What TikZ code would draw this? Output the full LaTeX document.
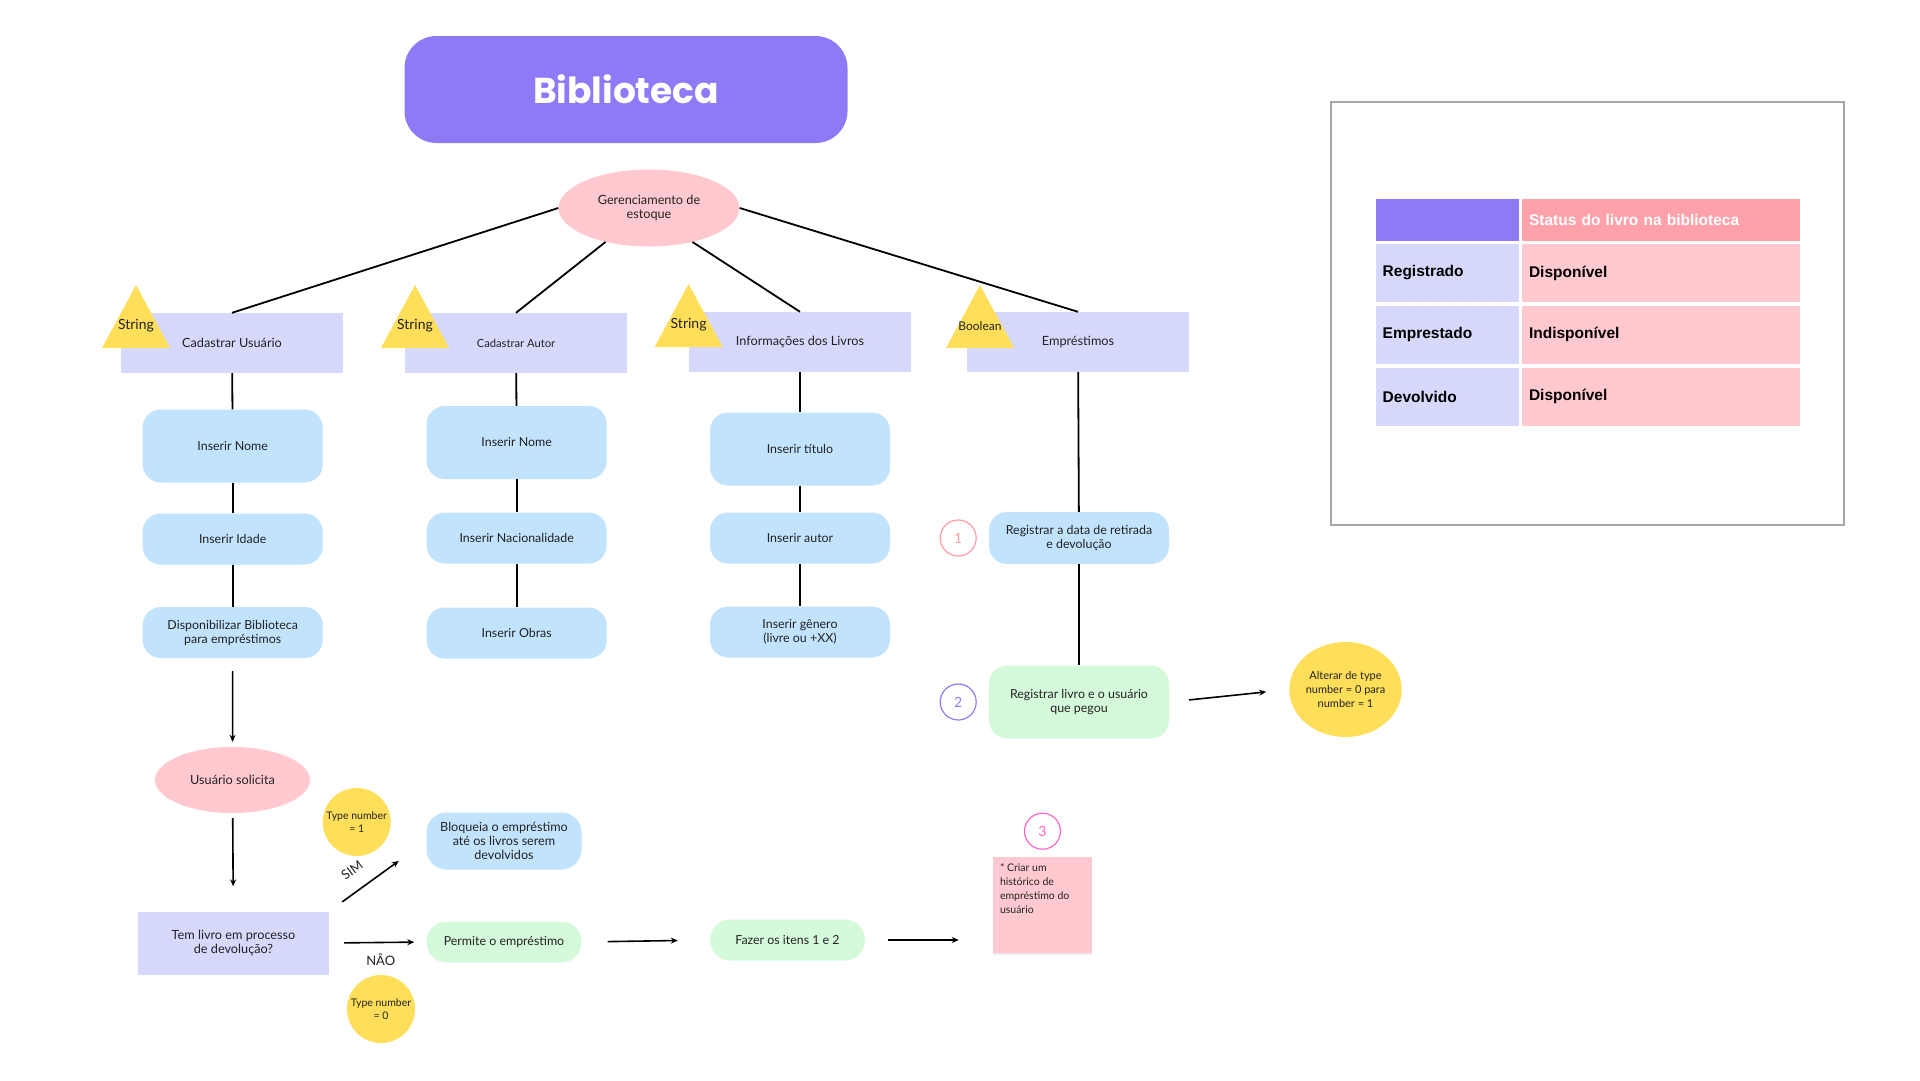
\documentclass[tikz,border=0pt]{standalone}
\usepackage{fontspec}
\setmainfont{Lato}
\newfontfamily\titlefont{Poppins}
\newfontfamily\tablefont{Liberation Sans}
\usepackage{tikz}
\usetikzlibrary{arrows.meta,positioning,shapes.geometric,shadows}
\definecolor{bibpurple}{HTML}{9079F7}
\definecolor{bibpink}{HTML}{FFC9CF}
\definecolor{bibrose}{HTML}{FFA1AA}
\definecolor{biblavender}{HTML}{D6D9FD}
\definecolor{bibblue}{HTML}{C1E3FD}
\definecolor{bibgreen}{HTML}{D5FADB}
\definecolor{bibyellow}{HTML}{FFDE59}
\definecolor{bibframe}{HTML}{A6A6A6}
\definecolor{bibtext}{HTML}{222222}
\definecolor{bibone}{HTML}{FF9AA8}
\definecolor{bibtwo}{HTML}{8C7CF7}
\definecolor{bibthree}{HTML}{FF66C4}
\tikzset{
  titlebox/.style={
    rectangle,
    rounded corners=32pt,
    fill=bibpurple,
    text=white,
    minimum width=443pt,
    minimum height=107pt,
    font=\titlefont\bfseries\fontsize{36}{42}\selectfont
  },
  catbox/.style={
    rectangle,
    fill=biblavender,
    text=bibtext,
    align=center,
    minimum width=222pt,
    minimum height=60pt,
    font=\fontsize{12.7}{14.5}\selectfont
  },
  stepbox/.style={
    rectangle,
    rounded corners=18pt,
    fill=bibblue,
    text=bibtext,
    align=center,
    minimum width=180pt,
    minimum height=51pt,
    inner sep=2pt,
    font=\fontsize{12.4}{14}\selectfont
  },
  tallstep/.style={stepbox, minimum height=73pt},
  greenstep/.style={stepbox, fill=bibgreen, rounded corners=20pt, minimum width=155pt, minimum height=41pt},
  pinkoval/.style={
    ellipse,
    fill=bibpink,
    text=bibtext,
    align=center,
    inner sep=0pt,
    font=\fontsize{12.7}{14}\selectfont
  },
  typedot/.style={
    circle,
    fill=bibyellow,
    text=bibtext,
    align=center,
    inner sep=0pt,
    minimum size=68pt,
    font=\fontsize{10.5}{13}\selectfont
  },
  tagtext/.style={text=bibtext, inner sep=0pt, font=\fontsize{14}{16}\selectfont},
  numring/.style={circle, draw, line width=1.2pt, minimum size=36pt, inner sep=0pt, font=\fontsize{14}{16}\selectfont},
  tablecell/.style={
    rectangle,
    align=left,
    inner xsep=7pt,
    inner ysep=0pt,
    text=black,
    font=\tablefont\bfseries\fontsize{15.5}{18}\selectfont
  },
  statecell/.style={tablecell, fill=biblavender, text width=129pt, minimum height=58pt},
  statuscell/.style={tablecell, fill=bibpink, text width=264pt, minimum height=58pt},
  link/.style={line width=1.8pt, draw=black},
  flowarrow/.style={-{Stealth[length=7pt,width=6pt]}, line width=1.6pt, draw=black}
}
% yellow type triangle: name, apex, text
\newcommand{\typetag}[3]{%
  \fill[bibyellow] (#2) -- ++(34,63) -- ++(-68,0) -- cycle;
  \path (#2) ++(0,41) node[tagtext] (#1) {#3};
}

\begin{document}
\begin{tikzpicture}[x=1pt, y=-1pt]
\useasboundingbox (0,0) rectangle (1920,1080);

\node[titlebox] (titulo) at (626,89.5) {Biblioteca};
\node[pinkoval, minimum width=181pt, minimum height=77pt] (estoque) at (649,208) {Gerenciamento de\\estoque};

% categorias
\node[catbox] (usuario) at (232,343) {Cadastrar Usuário};
\node[catbox, font=\fontsize{11.2}{13}\selectfont] (autor) at (516,343) {Cadastrar Autor};
\node[catbox] (livros) at (800,342) {Informações dos Livros};
\node[catbox] (emprest) at (1078,342) {Empréstimos};

\typetag{tipousuario}{136,285}{String}
\typetag{tipoautor}{415,285}{String}
\typetag{tipolivros}{688.6,284}{String}
\typetag{tipoemprest}{980,285}{\fontsize{12}{14}\selectfont Boolean}

\draw[link] (estoque.west) -- (usuario.north);
\draw[link] (estoque.218) -- (autor.north);
\draw[link] (estoque.322) -- (livros.north);
\draw[link] (estoque.east) -- (emprest.north);

% usuario
\node[tallstep] (unome) at (232.7,446) {Inserir Nome};
\node[stepbox] (uidade) at (232.7,539) {Inserir Idade};
\node[stepbox] (udisp) at (232.7,632.5) {Disponibilizar Biblioteca\\para empréstimos};
\draw[link] (usuario) -- (unome);
\draw[link] (unome) -- (uidade);
\draw[link] (uidade) -- (udisp);

% autor
\node[tallstep] (anome) at (516.7,442.5) {Inserir Nome};
\node[stepbox] (anacion) at (516.7,538) {Inserir Nacionalidade};
\node[stepbox] (aobras) at (516.7,633) {Inserir Obras};
\draw[link] (autor) -- (anome);
\draw[link] (anome) -- (anacion);
\draw[link] (anacion) -- (aobras);

% livros
\node[tallstep] (ltitulo) at (800,449) {Inserir título};
\node[stepbox] (lautor) at (800,538) {Inserir autor};
\node[stepbox] (lgenero) at (800,632) {Inserir gênero\\(livre ou +XX)};
\draw[link] (livros) -- (ltitulo);
\draw[link] (ltitulo) -- (lautor);
\draw[link] (lautor) -- (lgenero);

% emprestimos
\node[stepbox, minimum height=52pt] (data) at (1079,538) {Registrar a data de retirada\\e devolução};
\node[tallstep, fill=bibgreen] (livro) at (1079,702) {Registrar livro e o usuário\\que pegou};
\node[numring, draw=bibone, text=bibone, left=12pt of data] (passo1) {1};
\node[numring, draw=bibtwo, text=bibtwo, left=12pt of livro] (passo2) {2};
\node[typedot, ellipse, minimum width=107pt, minimum height=95pt, font=\fontsize{11}{13.8}\selectfont] (alterar) at (1345.5,689.5) {Alterar de type\\number = 0 para\\number = 1};
\draw[link] (emprest) -- (data);
\draw[link] (data) -- (livro);
\draw[flowarrow, shorten <=20pt, shorten >=23pt] (livro.east) -- (alterar.west);

% solicitacao
\node[pinkoval, minimum width=155pt, minimum height=66pt] (solicita) at (232.5,780) {Usuário solicita};
\node[catbox, minimum width=191pt, minimum height=63pt] (pergunta) at (233.5,943) {Tem livro em processo\\de devolução?};
\node[typedot] (tipoum) at (356.7,822) {Type number\\= 1};
\node[typedot] (tipozero) at (381,1009) {Type number\\= 0};
\node[stepbox, rounded corners=20pt, minimum width=155pt, minimum height=57pt, font=\fontsize{12.6}{13.8}\selectfont] (bloqueia) at (504,841) {Bloqueia o empréstimo\\até os livros serem\\devolvidos};
\node[greenstep] (permite) at (504,942) {Permite o empréstimo};
\node[greenstep] (fazer) at (787.5,940) {Fazer os itens 1 e 2};
\node[rectangle, fill=bibpink, inner sep=7pt, drop shadow={shadow xshift=0pt, shadow yshift=-2pt, opacity=0.15}, font=\fontsize{10.5}{13.7}\selectfont, text=bibtext] (historico) at (1042.5,905) {\parbox[t][82pt][t]{85pt}{* Criar um\\histórico de\\empréstimo do\\usuário}};
\node[numring, draw=bibthree, text=bibthree, above=7pt of historico] (passo3) {3};

\draw[flowarrow, shorten <=13pt, shorten >=5pt] (udisp) -- (solicita);
\draw[flowarrow, shorten <=5pt, shorten >=25pt] (solicita) -- (pergunta);
\draw[flowarrow, shorten <=16pt, shorten >=34pt] (pergunta.north east) -- (bloqueia.west);
\draw[flowarrow, shorten <=15pt, shorten >=12pt] (pergunta.east) -- (permite.west);
\draw[flowarrow, shorten <=26pt, shorten >=32pt] (permite.east) -- (fazer.west);
\draw[flowarrow, shorten <=23pt, shorten >=34pt] (fazer.east) -- (fazer.east -| historico.west);
\node[rotate=37, text=bibtext, font=\fontsize{13}{15}\selectfont] (sim) at (352,870) {SIM};
\node[text=bibtext, font=\fontsize{13}{15}\selectfont] (nao) at (380.7,960) {NÂO};

% tabela de status
\node[draw=bibframe, line width=1.5pt, minimum width=513pt, minimum height=423pt] (quadro) at (1587.7,313.5) {};
\node[statecell, fill=bibpurple, minimum height=42pt] (hdrstate) at (1447.2,220) {};
\node[statuscell, fill=bibrose, minimum height=42pt, text=white] (hdrstatus) at (1661,220) {Status do livro na biblioteca};
\node[statecell] (regstate) at (1447.2,273) {Registrado};
\node[statuscell] (regstatus) at (1661,273) {Disponível};
\node[statecell] (empstate) at (1447.2,334.5) {Emprestado};
\node[statuscell] (empstatus) at (1661,334.5) {Indisponível};
\node[statecell] (devstate) at (1447.2,396.5) {Devolvido};
\node[statuscell] (devstatus) at (1661,396.5) {Disponível};
\end{tikzpicture}
\end{document}
